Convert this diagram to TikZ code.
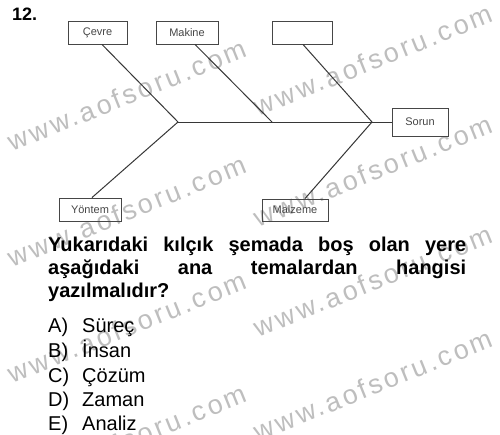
\documentclass[tikz,border=0pt]{standalone}
\usepackage{fontspec}
\setmainfont{Liberation Sans}
\definecolor{wm}{RGB}{190,190,190}
\definecolor{ln}{RGB}{55,55,55}
\definecolor{bx}{RGB}{70,70,70}
\begin{document}
\begin{tikzpicture}[x=1pt,y=-1pt,
  boxnode/.style={draw=bx, line width=0.9pt, inner sep=0pt, font=\fontsize{11}{13}\selectfont, text=bx, minimum height=23pt},
  bone/.style={draw=ln, line width=1pt},
  wmark/.style={text=wm, font=\fontsize{27}{31}\selectfont\addfontfeature{LetterSpace=11}, rotate=22, inner sep=0pt},
  qtext/.style={font=\bfseries\fontsize{20}{24}\selectfont, anchor=base west, inner sep=0pt},
  opt/.style={font=\fontsize{20}{24}\selectfont, anchor=base west, inner sep=0pt}]
\useasboundingbox (0,0) rectangle (500,434);
\fill[white] (0,0) rectangle (500,434);
% watermarks
\foreach \yy [count=\i] in {95,211,327,440} \node[wmark] (wl\i) at (127,\yy) {www.aofsoru.com};
\foreach \yy [count=\i] in {60,171,281,385} \node[wmark] (wr\i) at (373,\yy) {www.aofsoru.com};
% number
\node[qtext, font=\bfseries\fontsize{18}{22}\selectfont] (num) at (12,20) {12.};
% boxes
\node[boxnode, minimum width=59pt] (cevre) at (97.5,32.5) {Çevre};
\node[boxnode, minimum width=62pt] (makine) at (187,32.5) {Makine};
\node[boxnode, minimum width=60pt] (bos) at (302,32.5) {};
\node[boxnode, minimum width=56pt, minimum height=28pt] (sorun) at (420,122) {Sorun};
\node[boxnode, minimum width=62pt] (yontem) at (90,209.5) {Yöntem};
\node[boxnode, minimum width=66pt, minimum height=22pt] (malzeme) at (295,210) {Malzeme};
% spine
\coordinate (tail) at (178,122);
\coordinate (j1) at (272,122);
\coordinate (j2) at (372,122);
\draw[bone] (tail) -- (sorun.west);
\draw[bone] ([xshift=4.5pt]cevre.south) -- (tail);
\draw[bone] ([xshift=8pt]makine.south) -- (j1);
\draw[bone] ([xshift=1pt]bos.south) -- (j2);
\draw[bone] ([xshift=2pt]yontem.north) -- (tail);
\draw[bone] ([xshift=10pt]malzeme.north) -- (j2);
% question
\node[qtext] (q1) at (48,251) {\makebox[418pt][l]{Yukarıdaki\hfill kılçık\hfill şemada\hfill boş\hfill olan\hfill yere}};
\node[qtext] (q2) at (48,274) {\makebox[418pt][l]{aşağıdaki\hfill ana\hfill temalardan\hfill hangisi}};
\node[qtext] (q3) at (48,297) {yazılmalıdır?};
% options
\node[opt] (la) at (48,332) {A)};
\node[opt] (oa) at (82,332) {Süreç};
\node[opt] (lb) at (48,357) {B)};
\node[opt] (ob) at (82,357) {İnsan};
\node[opt] (lc) at (48,382) {C)};
\node[opt] (oc) at (82,382) {Çözüm};
\node[opt] (ld) at (48,406) {D)};
\node[opt] (od) at (82,406) {Zaman};
\node[opt] (le) at (48,430) {E)};
\node[opt] (oe) at (82,430) {Analiz};
\end{tikzpicture}
\end{document}
